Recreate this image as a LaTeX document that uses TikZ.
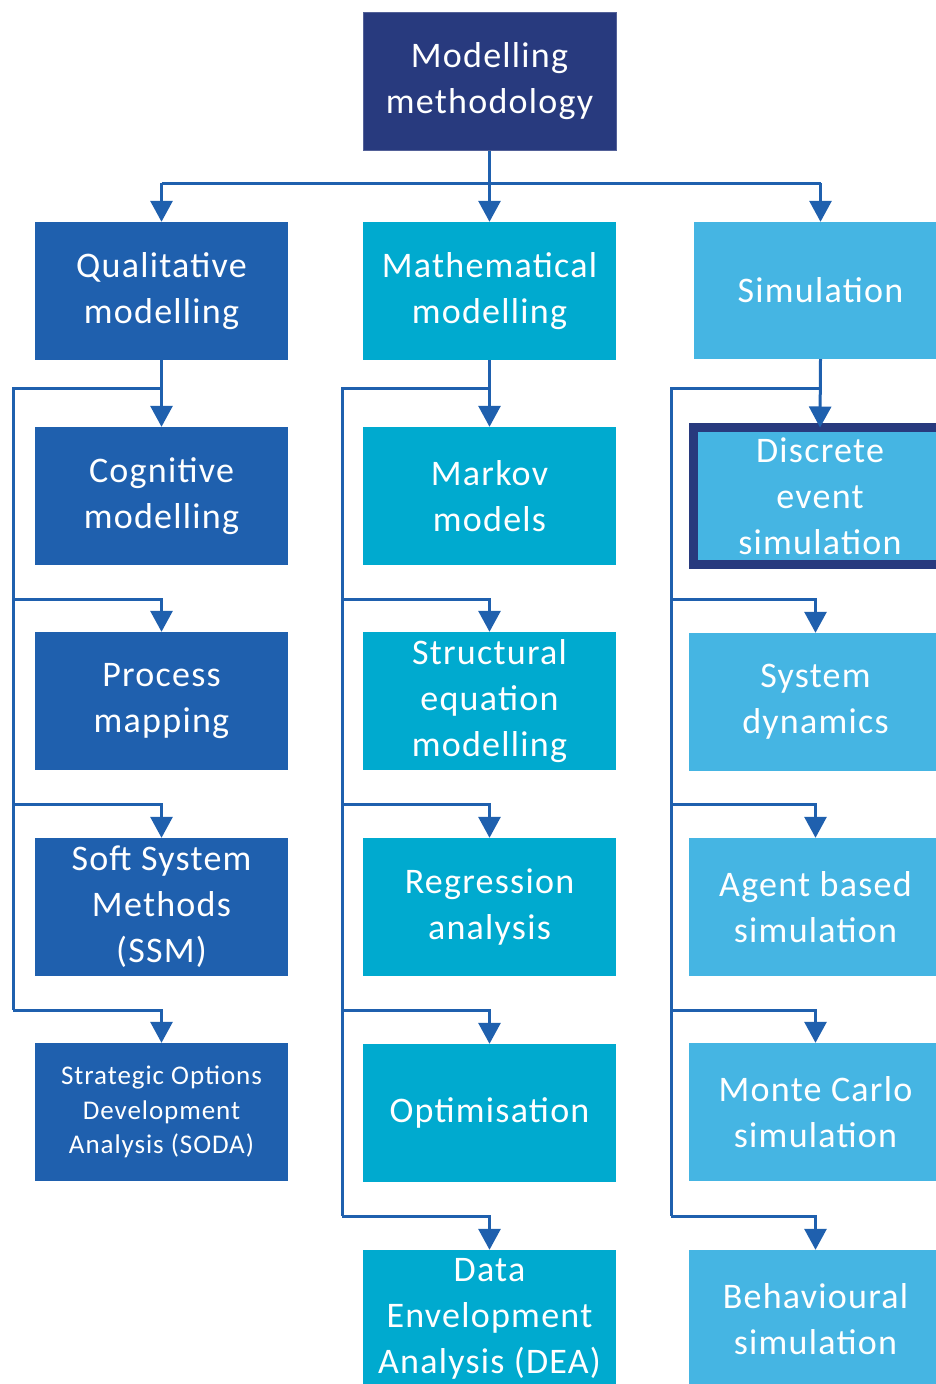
\documentclass[tikz,border=0pt]{standalone}
\usepackage{fontspec}
\setmainfont{Carlito}[LetterSpace=3.5]
\usetikzlibrary{arrows.meta}
\definecolor{navy}{RGB}{40,58,126}
\definecolor{cqual}{RGB}{31,96,174}
\definecolor{cmath}{RGB}{0,170,207}
\definecolor{csim}{RGB}{69,181,227}
\definecolor{cline}{RGB}{31,96,174}
\begin{document}
\begin{tikzpicture}[x=1pt,y=-1pt,
  box/.style={minimum width=253pt, minimum height=138pt, inner sep=0pt, text=white, align=center, font=\fontsize{36}{46}\selectfont},
  qbox/.style={box, fill=cqual},
  mbox/.style={box, fill=cmath},
  sbox/.style={box, fill=csim},
  ln/.style={draw=cline, line width=3pt, line join=miter},
  arr/.style={ln, -{Triangle[width=22pt,length=21pt]}}]
\useasboundingbox (0,0) rectangle (936,1384);
\clip (0,0) rectangle (936,1384);
\fill[white] (0,0) rectangle (936,1384);
% boxes
\node[box, fill=navy, draw=navy!80!white, line width=1pt] (top) at (489.5,81) {Modelling\\methodology};
\node[qbox] (qual) at (161.5,291) {Qualitative\\modelling};
\node[mbox] (math) at (489.5,291) {Mathematical\\modelling};
\node[sbox, minimum height=137pt] (sim) at (820.5,290.5) {Simulation};
\node[qbox] (cog) at (161.5,496) {Cognitive\\modelling};
\node[qbox] (proc) at (161.5,701) {Process\\mapping};
\node[qbox] (ssm) at (161.5,907) {Soft System\\Methods\\(SSM)};
\node[qbox, font=\fontsize{27}{34.5}\selectfont] (soda) at (161.5,1112) {Strategic Options\\Development\\Analysis (SODA)};
\node[mbox] (markov) at (489.5,496) {Markov\\models};
\node[mbox] (sem) at (489.5,701) {Structural\\equation\\modelling};
\node[mbox] (reg) at (489.5,907) {Regression\\analysis};
\node[mbox] (opt) at (489.5,1113) {Optimisation};
\node[mbox] (dea) at (489.5,1319) {Data\\Envelopment\\Analysis (DEA)};
\node[sbox, draw=navy, line width=9pt, minimum width=253pt, minimum height=137pt] (des) at (820,496) {Discrete\\event\\simulation};
\node[sbox] (sd) at (815.5,702) {System\\dynamics};
\node[sbox] (abs) at (815.5,907) {Agent based\\simulation};
\node[sbox] (mc) at (815.5,1112) {Monte Carlo\\simulation};
\node[sbox] (beh) at (815.5,1319) {Behavioural\\simulation};
% top bus
\coordinate (bus) at (489.5,183);
\draw[ln] (top.south) -- (bus);
\draw[ln] (qual.north |- bus) -- (sim.north |- bus);
\draw[arr] (qual.north |- bus) -- (qual.north);
\draw[arr] (bus) -- (math.north);
\draw[arr] (sim.north |- bus) -- (sim.north);
% column 1
\coordinate (q0) at (13,388);
\coordinate (q1) at (13,599);
\coordinate (q2) at (13,804);
\coordinate (q3) at (13,1010);
\draw[arr] (qual.south) -- (cog.north);
\draw[ln] (cog.north |- q0) -- (q0) -- (q3);
\draw[arr] (q1) -| (proc.north);
\draw[arr] (q2) -| (ssm.north);
\draw[arr] (q3) -| (soda.north);
% column 2
\coordinate (m0) at (342,388);
\coordinate (m1) at (342,599);
\coordinate (m2) at (342,804);
\coordinate (m3) at (342,1010);
\coordinate (m4) at (342,1216);
\draw[arr] (math.south) -- (markov.north);
\draw[ln] (markov.north |- m0) -- (m0) -- (m4);
\draw[arr] (m1) -| (sem.north);
\draw[arr] (m2) -| (reg.north);
\draw[arr] (m3) -| (opt.north);
\draw[arr] (m4) -| (dea.north);
% column 3
\coordinate (s0) at (671,388);
\coordinate (s1) at (671,599);
\coordinate (s2) at (671,804);
\coordinate (s3) at (671,1010);
\coordinate (s4) at (671,1216);
\draw[arr] (sim.south) -- ([yshift=-4.5pt]des.north);
\draw[ln] (sim.south |- s0) -- (s0) -- (s4);
\draw[arr] (s1) -| (sd.north);
\draw[arr] (s2) -| (abs.north);
\draw[arr] (s3) -| (mc.north);
\draw[arr] (s4) -| (beh.north);
\end{tikzpicture}
\end{document}
